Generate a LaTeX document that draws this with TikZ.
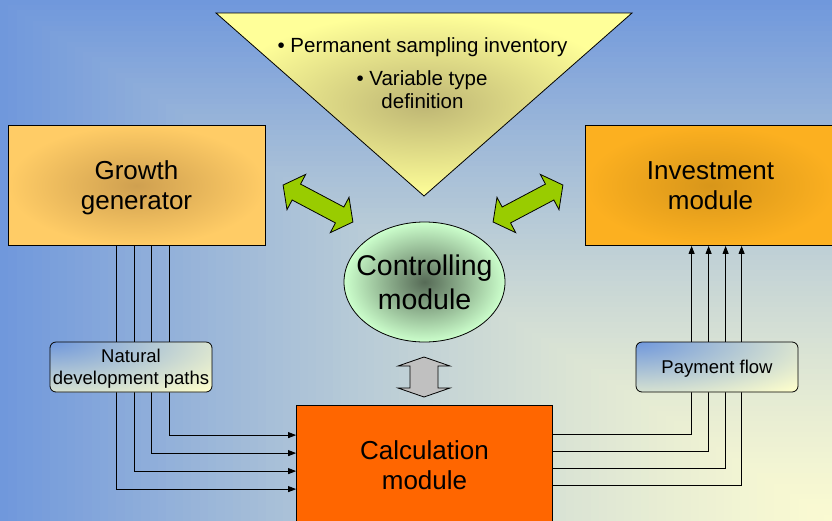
\documentclass[tikz,border=0pt]{standalone}
\usepackage{fontspec}
\setmainfont{Liberation Sans}
\usetikzlibrary{positioning, arrows.meta, shapes.geometric, calc}

\definecolor{bgblue}{HTML}{7098DC}
\definecolor{bgyellow}{HTML}{FAFAD2}
\definecolor{growthout}{HTML}{FFCC66}
\definecolor{growthin}{HTML}{CFA050}
\definecolor{investout}{HTML}{FCB020}
\definecolor{investin}{HTML}{D8961A}
\definecolor{calcfill}{HTML}{FF6600}
\definecolor{triout}{HTML}{FFFF99}
\definecolor{triin}{HTML}{BEB674}
\definecolor{ctrlout}{HTML}{CCFFCC}
\definecolor{ctrlin}{HTML}{566A56}
\definecolor{arrowgreen}{HTML}{99CC00}
\definecolor{arrowgrey}{HTML}{C0C0C0}
\definecolor{labelyellow}{HTML}{FFFFCC}

\tikzset{
    pics/fatarrow/.style n args={4}{code={
        \draw[pic actions] (-#1,0) -- (-#1+#2,#3) -- (-#1+#2,#4) -- (#1-#2,#4) -- (#1-#2,#3)
            -- (#1,0) -- (#1-#2,-#3) -- (#1-#2,-#4) -- (-#1+#2,-#4) -- (-#1+#2,-#3) -- cycle;
    }}
}

\begin{document}
\begin{tikzpicture}[x=1pt, y=-1pt,
        every node/.style={inner sep=0pt},
        module/.style={draw, line width=0.8pt, align=center, text depth=0pt,
            font=\fontsize{26}{30}\selectfont},
        tritext/.style={anchor=base, font=\fontsize{20.5}{24}\selectfont},
        pathlabel/.style={draw, line width=0.8pt, rounded corners=6pt, align=center, text depth=0pt,
            minimum width=162pt, minimum height=50pt, font=\fontsize{18.5}{22}\selectfont,
            path picture={
                \fill[labelyellow] (path picture bounding box.south west) rectangle (path picture bounding box.north east);
                \shade[inner color=bgblue, outer color=labelyellow] (path picture bounding box.north west) ellipse (220pt and 70pt);
            }},
        flow/.style={line width=0.8pt, -{Triangle[length=8pt, width=6pt]}}
    ]
    \useasboundingbox (0,0) rectangle (832,520);

    % Hintergrund: Verlauf aus der Ecke unten rechts
    \foreach \i in {0,...,99} {
        \pgfmathsetmacro\t{1-\i/100}
        \pgfmathsetmacro\p{100*pow(\t,1.3)}
        \fill[bgblue!\p!bgyellow] ({832*(1-\t)},{520*(1-\t)}) rectangle (833,521);
    }

    % Dreieck oben
    \shade[draw=black, line width=0.8pt, inner color=triin, outer color=triout]
        (216,13) -- (632,13) -- (424,196) -- cycle;
    \node[tritext] (inventory) at (422.5,52) {• Permanent sampling inventory};
    \node[tritext] (vartype) at (422,85) {• Variable type};
    \node[tritext] (vardef) at (422.5,108) {definition};

    % Module
    \node[module, minimum width=257pt, minimum height=120pt, inner color=growthin, outer color=growthout]
        (growth) at (136.5,185.5) {Growth\\generator};
    \node[module, minimum width=251pt, minimum height=120pt, inner color=investin, outer color=investout]
        (invest) at (710.5,185.5) {Investment\\module};
    \node[module, minimum width=256pt, minimum height=120pt, fill=calcfill]
        (calc) at (424.5,465.5) {Calculation\\module};
    \node[module, ellipse, minimum width=161pt, minimum height=120pt, inner color=ctrlin, outer color=ctrlout,
        font=\fontsize{28.5}{34}\selectfont]
        (ctrl) at (424.5,282) {\makebox[0pt]{Controlling}\\\makebox[0pt]{module}};

    % Doppelpfeile
    \pic[fill=arrowgreen, draw=black, line width=0.8pt, rotate=-27.9] (leftarrow) at (318,203.5) {fatarrow={39.5}{15}{20}{9}};
    \pic[fill=arrowgreen, draw=black, line width=0.8pt, rotate=27.9] (rightarrow) at (528,203.5) {fatarrow={39.5}{15}{20}{9}};
    \pic[fill=arrowgrey, draw=black, line width=0.8pt, rotate=90] (midarrow) at (424,377) {fatarrow={20}{9}{26}{14}};

    % Pfade Wachstum -> Berechnung
    \foreach \dx/\dy in {109/84, 126.5/66, 144/48, 161.5/30}
        \draw[flow] ([xshift=\dx pt]growth.south west) |- ([yshift=-\dy pt]calc.north west);

    % Zahlungsstrom Berechnung -> Investment
    \foreach \dy/\dx in {29/107, 46/124, 63/141, 80/157}
        \draw[flow] ([yshift=-\dy pt]calc.north east) -| ([xshift=\dx pt]invest.south west);

    % Beschriftungen auf den Linien
    \node[pathlabel] (natural) at (131,367) {Natural\\development paths};
    \node[pathlabel] (payment) at (717,367) {Payment flow};

\end{tikzpicture}
\end{document}
